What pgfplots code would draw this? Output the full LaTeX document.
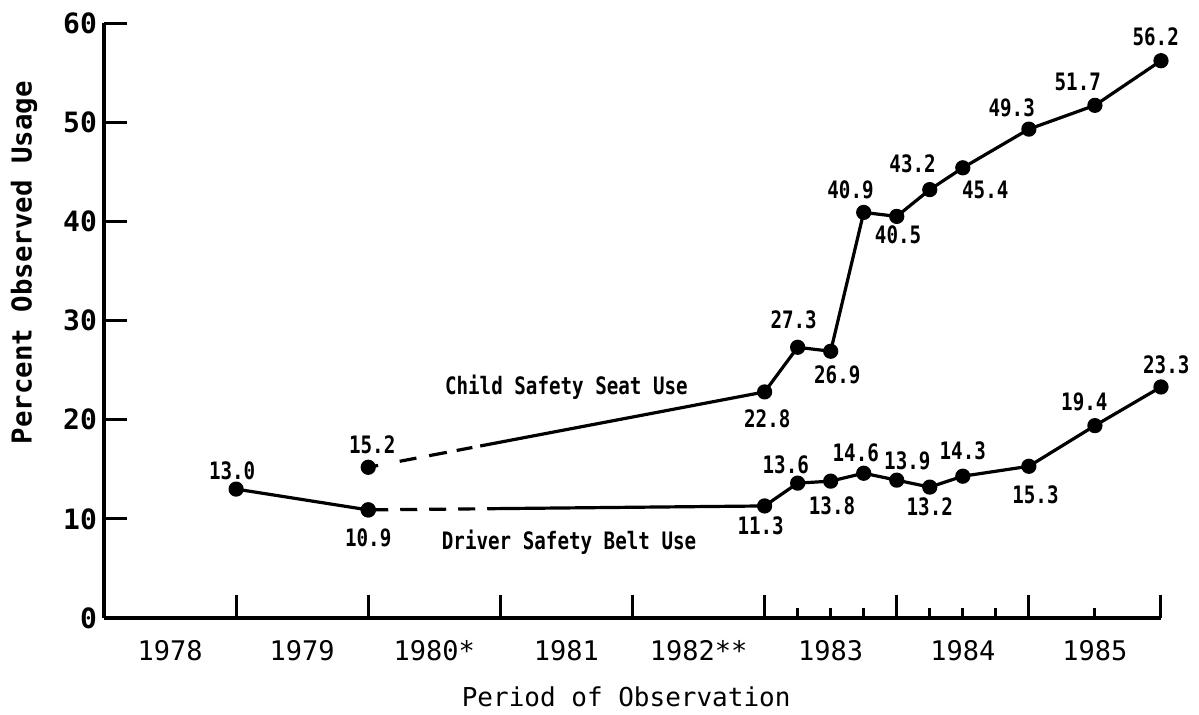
\documentclass[border=0pt]{standalone}
\usepackage{fontspec}
\setmainfont{DejaVu Sans Mono}
\newfontfamily\labfont{DejaVu Sans Mono}[FakeStretch=0.8]
\usepackage{pgfplots}
\pgfplotsset{compat=1.18}
\tikzset{lab/.style={font=\labfont\fontsize{12}{14}\selectfont\bfseries, inner sep=0pt}}
\begin{document}
\begin{tikzpicture}
\useasboundingbox (-52pt,-48pt) rectangle (547.5pt,309pt);
\begin{axis}[
  at={(0,0)}, anchor=south west,
  scale only axis, width=528.5pt, height=297.5pt,
  xmin=0, xmax=8, ymin=0, ymax=60,
  axis lines=left,
  axis line style={-, line width=1.8pt},
  clip=false,
  xtick={1,...,8}, xticklabels={},
  minor xtick={5.25,5.5,5.75,6.25,6.5,6.75,7.5},
  major tick length=11.5pt, minor tick length=5pt,
  tick align=inside,
  tick style={line width=1.5pt, black},
  ytick={0,10,...,60},
  yticklabel style={font=\fontsize{14}{16}\selectfont\bfseries},
  /pgf/number format/assume math mode=true,
  extra x ticks={0.5,1.5,...,7.5},
  extra x tick labels={1978,1979,1980*,1981,1982**,1983,1984,1985},
  extra x tick style={major tick length=0pt, xticklabel style={font=\fontsize{13.5}{15}\selectfont, yshift=-7.5pt}},
  xlabel={Period of Observation},
  ylabel={Percent Observed Usage},
  every axis x label/.style={at={(axis description cs:0.494,-0.133)}, anchor=center, font=\fontsize{13}{15}\selectfont},
  every axis y label/.style={at={(axis description cs:-0.0757,0.597)}, anchor=center, rotate=90, font=\fontsize{13.7}{15}\selectfont\bfseries},
]
% Driver safety belt use
\addplot[black, line width=1.6pt, line join=round, mark=*, mark size=3pt, mark options={solid}]
  coordinates {(1,13.0) (2,10.9)};
\addplot[black, line width=1.6pt, line join=round, mark=*, mark size=3pt, mark options={solid},
  dash pattern=on 10pt off 6pt on 8.5pt off 6pt on 8.5pt off 6pt on 8.5pt off 6pt on 2000pt off 1pt]
  coordinates {(2,10.9) (5,11.3) (5.25,13.6) (5.5,13.8) (5.75,14.6) (6,13.9) (6.25,13.2) (6.5,14.3) (7,15.3) (7.5,19.4) (8,23.3)};
% Child safety seat use
\addplot[black, line width=1.6pt, line join=round, mark=*, mark size=3pt, mark options={solid},
  dash pattern=on 5pt off 11pt on 8.5pt off 6.5pt on 9pt off 5pt on 8pt off 4pt on 2000pt off 1pt]
  coordinates {(2,15.2) (5,22.8) (5.25,27.3) (5.5,26.9) (5.75,40.9) (6,40.5) (6.25,43.2) (6.5,45.4) (7,49.3) (7.5,51.7) (8,56.2)};

% value labels - child
\node[lab] at (axis cs:2.03,17.44) {15.2};
\node[lab] at (axis cs:5.02,20.07) {22.8};
\node[lab] at (axis cs:5.22,30.05) {27.3};
\node[lab] at (axis cs:5.55,24.5) {26.9};
\node[lab] at (axis cs:5.65,43.16) {40.9};
\node[lab] at (axis cs:6.01,38.6) {40.5};
\node[lab] at (axis cs:6.12,45.8) {43.2};
\node[lab] at (axis cs:6.67,43.2) {45.4};
\node[lab] at (axis cs:6.87,51.4) {49.3};
\node[lab] at (axis cs:7.37,54.1) {51.7};
\node[lab] at (axis cs:7.96,58.6) {56.2};
% value labels - driver
\node[lab] at (axis cs:0.97,14.8) {13.0};
\node[lab] at (axis cs:2.0,8.07) {10.9};
\node[lab] at (axis cs:4.97,9.28) {11.3};
\node[lab] at (axis cs:5.16,15.5) {13.6};
\node[lab] at (axis cs:5.51,11.3) {13.8};
\node[lab] at (axis cs:5.69,16.7) {14.6};
\node[lab] at (axis cs:6.08,15.9) {13.9};
\node[lab] at (axis cs:6.25,11.2) {13.2};
\node[lab] at (axis cs:6.5,16.9) {14.3};
\node[lab] at (axis cs:7.05,12.4) {15.3};
\node[lab] at (axis cs:7.42,21.8) {19.4};
\node[lab] at (axis cs:8.04,25.5) {23.3};
% series labels
\node[lab] at (axis cs:3.5,23.3) {Child Safety Seat Use};
\node[lab] at (axis cs:3.52,7.66) {Driver Safety Belt Use};
\end{axis}
\end{tikzpicture}
\end{document}
